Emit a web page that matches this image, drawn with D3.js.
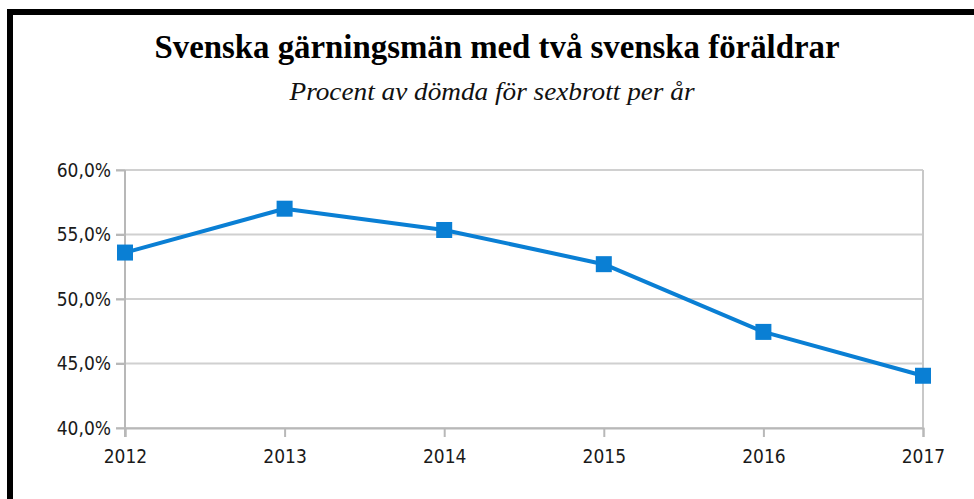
<!DOCTYPE html>
<html><head><meta charset="utf-8">
<script src="https://cdn.jsdelivr.net/npm/d3@7"></script>
<style>html,body{margin:0;padding:0;background:#fff;overflow:hidden}</style>
</head><body>
<svg id="c" width="974" height="499"></svg>
<script>
const years = ["2012","2013","2014","2015","2016","2017"];
const values = [53.6, 57.0, 55.35, 52.7, 47.45, 44.05];
const yTicks = [40, 45, 50, 55, 60];
const title = "Svenska gärningsmän med två svenska föräldrar";
const subtitle = "Procent av dömda för sexbrott per år";

const svg = d3.select("#c");
svg.append("rect").attr("x",10).attr("y",12).attr("width",1000).attr("height",600)
  .attr("fill","#fff").attr("stroke","#000").attr("stroke-width",6);

const x = d3.scalePoint().domain(years).range([125, 923]);
const y = d3.scaleLinear().domain([40, 60]).range([428, 170]);
const fmt = v => d3.format(".1f")(v).replace(".", ",") + "%";

// gridlines
svg.append("g").selectAll("line").data(yTicks).join("line")
  .attr("x1",116).attr("x2",923).attr("y1",d=>y(d)).attr("y2",d=>y(d))
  .attr("stroke","#d0d0d0").attr("stroke-width",2);
// right border
svg.append("line").attr("x1",923).attr("x2",923).attr("y1",y(60)).attr("y2",y(40))
  .attr("stroke","#c8c8c8").attr("stroke-width",2);

const yAxis = svg.append("g").attr("transform","translate(125,0)")
  .call(d3.axisLeft(y).tickValues(yTicks).tickFormat(fmt).tickSize(9).tickPadding(5));
const xAxis = svg.append("g").attr("transform","translate(0,428)")
  .call(d3.axisBottom(x).tickSize(9).tickPadding(10));
[yAxis, xAxis].forEach(a => {
  a.select(".domain").attr("stroke","#b8b8b8").attr("stroke-width",2);
  a.selectAll(".tick line").attr("stroke","#b8b8b8").attr("stroke-width",2);
  a.selectAll("text").attr("fill","#1a1a1a")
    .style("font-family","'DejaVu Sans Condensed','DejaVu Sans',sans-serif").style("font-size","19px");
});
yAxis.select(".domain").attr("d","M0,"+y(60)+"V437");
xAxis.selectAll("text").attr("dy","0.85em");

const line = d3.line().x((d,i)=>x(years[i])).y(d=>y(d));
svg.append("path").datum(values).attr("d",line).attr("fill","none")
  .attr("stroke","#0a7fd4").attr("stroke-width",4).attr("stroke-linejoin","round");
const m = 16;
svg.append("g").selectAll("rect").data(values).join("rect")
  .attr("x",(d,i)=>x(years[i])-m/2).attr("y",d=>y(d)-m/2)
  .attr("width",m).attr("height",m).attr("fill","#0a7fd4");

svg.append("text").attr("x",497).attr("y",58).attr("text-anchor","middle")
  .style("font-family","'Liberation Serif',serif").style("font-weight","bold").style("font-size","33px")
  .attr("textLength",685).attr("lengthAdjust","spacingAndGlyphs").attr("fill","#000").text(title);
svg.append("text").attr("x",492).attr("y",100).attr("text-anchor","middle")
  .style("font-family","'Liberation Serif',serif").style("font-style","italic").style("font-size","25px")
  .attr("textLength",405).attr("lengthAdjust","spacingAndGlyphs").attr("fill","#111").text(subtitle);
</script>
</body></html>
